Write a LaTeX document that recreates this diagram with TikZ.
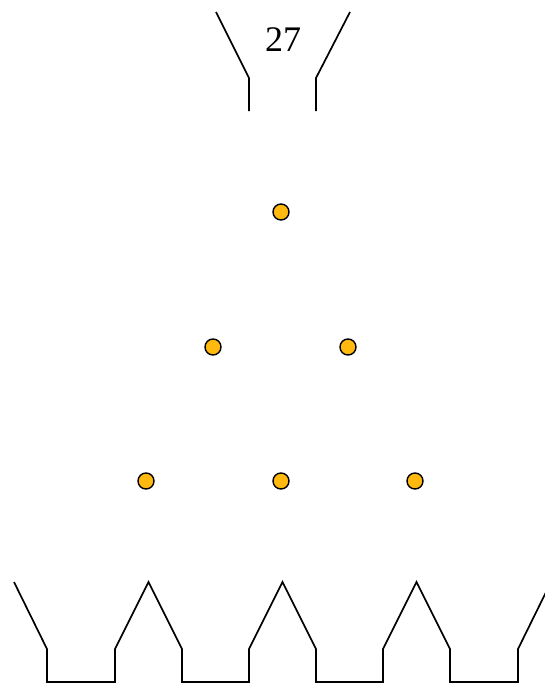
\documentclass[tikz,border=0pt]{standalone}
\usepackage{fontspec}
\setmainfont{Liberation Serif}
\usetikzlibrary{positioning}
\definecolor{pegyellow}{RGB}{255,185,15}

\begin{document}
\begin{tikzpicture}[
      x=1pt, y=-1pt,
      peg/.style={circle, draw=black, fill=pegyellow, line width=1.4pt, minimum size=16pt, inner sep=0pt},
      wall/.style={line width=1.7pt, line join=miter}
    ]
    \useasboundingbox (0,0) rectangle (544,683);
    % funnel
    \draw[wall] (216,12) -- (249,78) -- (249,111);
    \draw[wall] (350,12) -- (316,78) -- (316,111);
    \node[font=\fontsize{36}{40}\selectfont] (count) at (283,40) {27};
    % pegs
    \node[peg] (p11) at (281,212) {};
    \node[peg] (p21) at (213,347) {};
    \node[peg] (p22) at (348,347) {};
    \node[peg] (p31) at (146,481) {};
    \node[peg] (p32) at (281,481) {};
    \node[peg] (p33) at (415,481) {};
    % bins
    \draw[wall] (14,582) -- (47,649) -- (47,682)
      \foreach \x in {115,249,383} {
        -- (\x,682) -- (\x,649) -- (\x+33.5,582) -- (\x+67,649) -- (\x+67,682)
      }
      -- (518,682) -- (518,649) -- (551,582);
  \end{tikzpicture}
\end{document}
